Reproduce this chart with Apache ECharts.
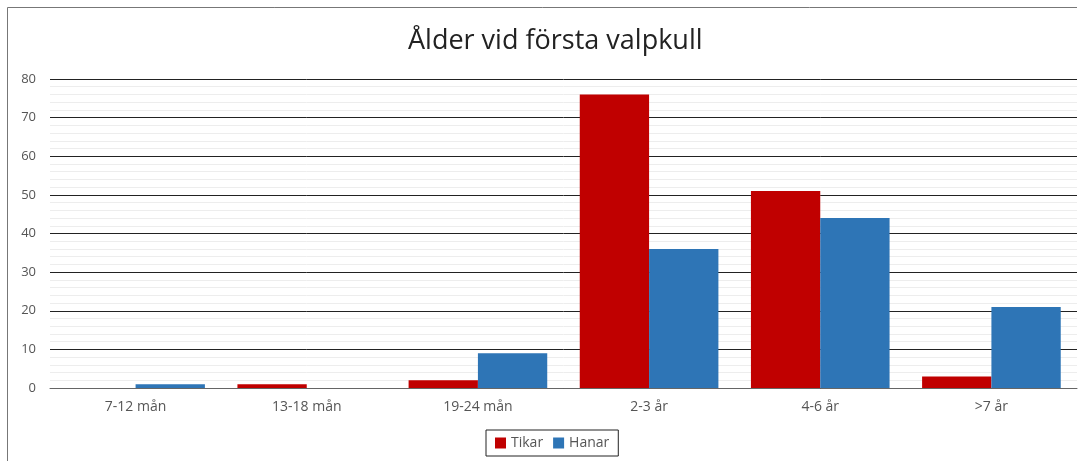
<!DOCTYPE html>
<html>
<head>
<meta charset="utf-8">
<script src="https://cdn.jsdelivr.net/npm/echarts@6/dist/echarts.min.js"></script>
<style>
  html, body { margin: 0; padding: 0; background: #fff; }
  #chart { width: 1085px; height: 461px; }
</style>
</head>
<body>
<div id="chart"></div>
<script>
  // data
  const categories = ['7-12 mån', '13-18 mån', '19-24 mån', '2-3 år', '4-6 år', '>7 år']
  const tikar = [0, 1, 2, 76, 51, 3]
  const hanar = [1, 0, 9, 36, 44, 21]
  const yTicks = [0, 10, 20, 30, 40, 50, 60, 70, 80]

  const chart = echarts.init(document.getElementById('chart'))
  const font = '"Open Sans", "Noto Sans", sans-serif'

  const option = {
    animation: false,
    title: {
      text: 'Ålder vid första valpkull',
      left: 403,
      top: 23,
      textStyle: { fontFamily: font, fontSize: 27, fontWeight: 'normal', color: '#222' }
    },
    // frame of the chart area (left and top edge)
    graphic: [
      { type: 'line', shape: { x1: 7.5, y1: 7.5, x2: 1077, y2: 7.5 }, style: { stroke: '#777', lineWidth: 1 } },
      { type: 'line', shape: { x1: 7.5, y1: 7.5, x2: 7.5, y2: 461 }, style: { stroke: '#777', lineWidth: 1 } }
    ],
    legend: {
      bottom: 5,
      left: 486,
      itemWidth: 11,
      itemHeight: 11,
      itemGap: 10,
      icon: 'rect',
      borderColor: '#222',
      borderWidth: 1,
      padding: [6, 9, 6, 9],
      textStyle: { fontFamily: font, fontSize: 14, color: '#555' },
      data: ['Tikar', 'Hanar']
    },
    grid: { left: 50, right: 8, top: 79, bottom: 73 },
    xAxis: {
      type: 'category',
      data: categories,
      axisTick: { show: false },
      axisLine: { lineStyle: { color: '#666' } },
      axisLabel: { fontFamily: font, fontSize: 14, color: '#555', margin: 12 }
    },
    yAxis: {
      type: 'value',
      min: yTicks[0],
      max: yTicks[yTicks.length - 1],
      interval: 10,
      axisLine: { show: false },
      axisTick: { show: false },
      axisLabel: { fontFamily: font, fontSize: 13, color: '#555', margin: 14 },
      splitLine: { lineStyle: { color: '#222', width: 1 } },
      minorTick: { show: false, splitNumber: 5 },
      minorSplitLine: { show: true, lineStyle: { color: '#ededed', width: 1 } }
    },
    series: [
      {
        name: 'Tikar',
        type: 'bar',
        data: tikar,
        barGap: '0%',
        barCategoryGap: '19%',
        itemStyle: { color: '#C00000' }
      },
      {
        name: 'Hanar',
        type: 'bar',
        data: hanar,
        itemStyle: { color: '#2E75B6' }
      }
    ]
  }

  chart.setOption(option)
</script>
</body>
</html>
